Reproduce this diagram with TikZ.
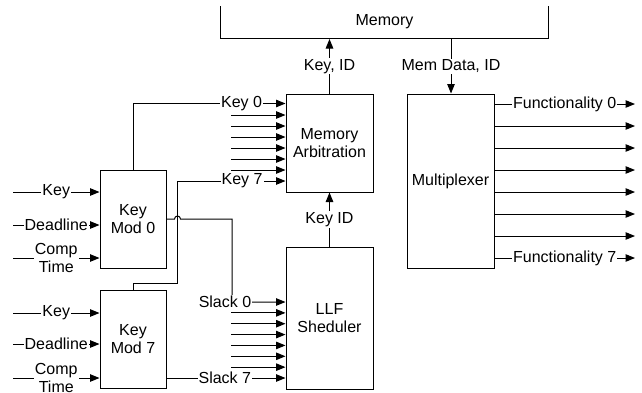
\documentclass[tikz,border=0pt]{standalone}
\usepackage{fontspec}
\setmainfont{Liberation Sans}
\usetikzlibrary{arrows.meta,calc}
\newcommand\diafont{\fontsize{16}{18.5}\selectfont}
\begin{document}
\begin{tikzpicture}[x=1pt,y=-1pt,
  box/.style={draw, line width=1pt, inner sep=0pt, align=center, font=\diafont},
  arr/.style={-{Triangle[length=9.5pt,width=7.5pt]}, line width=1pt},
  lbl/.style={fill=white, inner sep=1pt, font=\diafont, align=center}]
\useasboundingbox (0,0) rectangle (642,392);
\clip (0,6) rectangle (642,392);
% boxes
\node[box, minimum width=328pt, minimum height=80pt, anchor=south] (mem) at (384.5,39) {};
\node[font=\diafont] (memt) at (384.5,22) {Memory};
\node[box, minimum width=87pt, minimum height=98pt] (arb) at (329.5,143) {Memory\\Arbitration};
\node[box, minimum width=87pt, minimum height=174pt] (mux) at (450.5,181) {Multiplexer};
\node[box, minimum width=66pt, minimum height=98pt] (km0) at (133,219) {Key\\Mod 0};
\node[box, minimum width=66pt, minimum height=98pt] (km7) at (133,339) {Key\\Mod 7};
\node[box, minimum width=87pt, minimum height=142pt] (llf) at (329.5,318) {LLF\\Sheduler};
% memory links
\draw[arr] (arb.north) -- node[lbl]{Key, ID} (arb.north |- mem.south);
\coordinate (md) at (451,39);
\draw[arr] (md) -- node[lbl]{Mem Data, ID} (md |- mux.north);
\draw[arr] (llf.north) -- node[lbl]{Key ID} (arb.south);
% multiplexer outputs
\foreach \i in {0,...,7} {\coordinate (f\i) at (635,104+22*\i);}
\draw[arr] (mux.east |- f0) -- node[lbl]{Functionality 0} (f0);
\foreach \i in {1,...,6} {\draw[arr] (mux.east |- f\i) -- (f\i);}
\draw[arr] (mux.east |- f7) -- node[lbl]{Functionality 7} (f7);
% arbitration inputs
\foreach \i in {1,...,6} {\coordinate (a\i) at (231,104+11*\i); \draw[arr] (a\i) -- (arb.west |- a\i);}
\draw[arr] (km0.north) |- node[lbl,pos=0.856]{Key 0} ($(arb.north west)+(0,10)$);
\coordinate (k7) at (177,181);
\draw[arr] (km7.north) -- ++(0,-6) -| (k7) -- node[lbl,pos=0.6]{Key 7} (arb.west |- k7);
% scheduler inputs
\coordinate (s0) at (232,302);
\draw[arr] (km0.east) -- ++(8,0) arc[start angle=180,end angle=0,radius=3pt] -| (s0) node[lbl,xshift=-7pt]{Slack 0} -- (llf.west |- s0);
\foreach \i in {1,...,6} {\coordinate (b\i) at (231,302+10.857*\i); \draw[arr] (b\i) -- (llf.west |- b\i);}
\coordinate (s7) at ($(km7.east)+(0,39)$);
\draw[arr] (s7) -- node[lbl,pos=0.49]{Slack 7} (llf.west |- s7);
% key mod inputs
\coordinate (i0a) at (13,192); \coordinate (i0b) at (13,225); \coordinate (i0c) at (13,258);
\coordinate (i7a) at (13,313); \coordinate (i7b) at (13,344); \coordinate (i7c) at (13,378);
\draw[arr] (i0a) -- node[lbl]{Key} (km0.west |- i0a);
\draw[arr] (i0b) -- node[lbl]{Deadline} (km0.west |- i0b);
\draw[arr] (i0c) -- node[lbl]{Comp\\Time} (km0.west |- i0c);
\draw[arr] (i7a) -- node[lbl]{Key} (km7.west |- i7a);
\draw[arr] (i7b) -- node[lbl]{Deadline} (km7.west |- i7b);
\draw[arr] (i7c) -- node[lbl]{Comp\\Time} (km7.west |- i7c);
\end{tikzpicture}
\end{document}
